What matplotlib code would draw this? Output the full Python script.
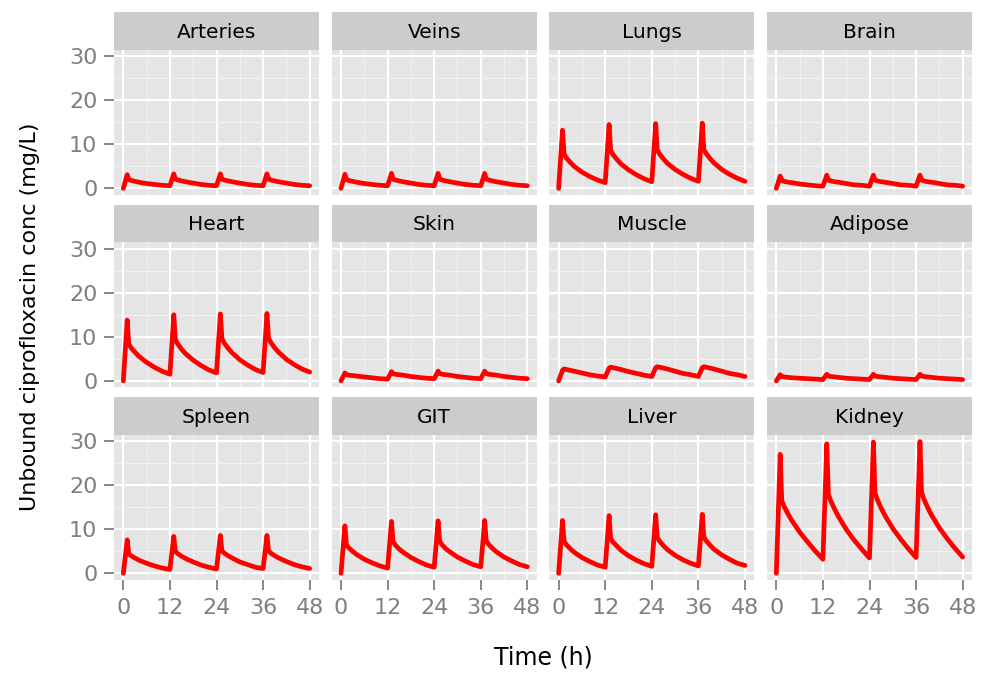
import numpy as np
import matplotlib
matplotlib.use("Agg")
import matplotlib.pyplot as plt

matplotlib.rcParams['font.family'] = ['DejaVu Sans']

# sampling times (h), four doses every 12 h
times = [0, 1, 1.4, 2, 3, 4, 6, 8, 10, 12,
         13, 13.4, 14, 15, 16, 18, 20, 22, 24,
         25, 25.4, 26, 27, 28, 30, 32, 34, 36,
         37, 37.4, 38, 39, 40, 42, 44, 46, 48]

arteries = [0, 3.1, 2.0, 1.8, 1.6, 1.4, 1.1, 0.9, 0.7, 0.6,
            3.3, 2.1, 1.9, 1.7, 1.5, 1.2, 0.9, 0.7, 0.6,
            3.3, 2.1, 1.9, 1.7, 1.5, 1.2, 0.9, 0.7, 0.6,
            3.3, 2.1, 1.9, 1.7, 1.5, 1.2, 0.9, 0.7, 0.6]
veins = [0, 3.2, 2.0, 1.8, 1.6, 1.4, 1.1, 0.9, 0.7, 0.6,
         3.4, 2.1, 1.9, 1.7, 1.5, 1.2, 0.9, 0.7, 0.6,
         3.4, 2.1, 1.9, 1.7, 1.5, 1.2, 0.9, 0.7, 0.6,
         3.4, 2.1, 1.9, 1.7, 1.5, 1.2, 0.9, 0.7, 0.6]
lungs = [0, 13.2, 7.8, 6.9, 5.9, 5.0, 3.7, 2.7, 1.9, 1.3,
         14.5, 8.6, 7.7, 6.6, 5.6, 4.2, 3.1, 2.2, 1.5,
         14.7, 8.8, 7.8, 6.7, 5.7, 4.3, 3.2, 2.3, 1.6,
         14.8, 8.8, 7.9, 6.8, 5.8, 4.3, 3.2, 2.3, 1.6]
brain = [0, 2.8, 1.8, 1.6, 1.4, 1.3, 1.0, 0.8, 0.6, 0.5,
         3.0, 1.9, 1.7, 1.5, 1.4, 1.1, 0.8, 0.7, 0.5,
         3.0, 1.9, 1.7, 1.5, 1.4, 1.1, 0.8, 0.7, 0.5,
         3.0, 1.9, 1.7, 1.5, 1.4, 1.1, 0.8, 0.7, 0.5]
heart = [0, 13.8, 8.4, 7.5, 6.5, 5.6, 4.2, 3.1, 2.2, 1.5,
         15.0, 9.4, 8.4, 7.2, 6.2, 4.7, 3.5, 2.5, 1.8,
         15.2, 9.6, 8.6, 7.4, 6.4, 4.8, 3.6, 2.6, 1.9,
         15.3, 9.7, 8.7, 7.5, 6.5, 4.9, 3.7, 2.7, 2.0]
skin = [0, 1.8, 1.4, 1.3, 1.2, 1.1, 0.9, 0.7, 0.5, 0.4,
        2.1, 1.6, 1.5, 1.4, 1.3, 1.0, 0.8, 0.6, 0.5,
        2.2, 1.7, 1.5, 1.4, 1.3, 1.0, 0.8, 0.6, 0.5,
        2.2, 1.7, 1.5, 1.4, 1.3, 1.0, 0.8, 0.6, 0.5]
muscle = [0, 2.4, 2.7, 2.6, 2.4, 2.2, 1.8, 1.4, 1.1, 0.9,
          2.9, 3.1, 3.0, 2.8, 2.6, 2.1, 1.7, 1.3, 1.0,
          3.0, 3.2, 3.1, 2.9, 2.7, 2.2, 1.7, 1.4, 1.0,
          3.0, 3.2, 3.1, 2.9, 2.7, 2.2, 1.7, 1.4, 1.0]
adipose = [0, 1.4, 1.0, 0.9, 0.8, 0.7, 0.6, 0.5, 0.4, 0.3,
           1.5, 1.1, 1.0, 0.9, 0.8, 0.6, 0.5, 0.4, 0.3,
           1.5, 1.1, 1.0, 0.9, 0.8, 0.6, 0.5, 0.4, 0.3,
           1.5, 1.1, 1.0, 0.9, 0.8, 0.6, 0.5, 0.4, 0.3]
spleen = [0, 7.6, 4.4, 4.0, 3.5, 3.0, 2.3, 1.7, 1.2, 0.9,
          8.4, 5.0, 4.5, 3.9, 3.4, 2.6, 1.9, 1.4, 1.0,
          8.6, 5.1, 4.6, 4.0, 3.5, 2.6, 2.0, 1.4, 1.1,
          8.6, 5.1, 4.6, 4.0, 3.5, 2.7, 2.0, 1.5, 1.1]
git = [0, 10.8, 6.5, 5.8, 5.0, 4.3, 3.2, 2.4, 1.7, 1.2,
       11.8, 7.2, 6.4, 5.5, 4.8, 3.6, 2.7, 1.9, 1.4,
       11.9, 7.3, 6.5, 5.6, 4.9, 3.7, 2.8, 2.0, 1.5,
       12.0, 7.4, 6.6, 5.7, 4.9, 3.7, 2.8, 2.0, 1.5]
liver = [0, 12.0, 7.3, 6.5, 5.6, 4.8, 3.6, 2.7, 1.9, 1.4,
         13.1, 8.0, 7.1, 6.2, 5.3, 4.0, 3.0, 2.2, 1.6,
         13.3, 8.2, 7.3, 6.3, 5.4, 4.1, 3.1, 2.3, 1.7,
         13.4, 8.3, 7.4, 6.4, 5.5, 4.2, 3.2, 2.3, 1.8]
kidney = [0, 27.0, 16.5, 15.2, 13.5, 12.0, 9.4, 7.2, 5.1, 3.2,
          29.4, 18.0, 16.5, 14.6, 12.9, 10.0, 7.6, 5.5, 3.5,
          29.8, 18.3, 16.8, 14.8, 13.1, 10.2, 7.8, 5.6, 3.6,
          29.9, 18.4, 16.9, 14.9, 13.2, 10.3, 7.9, 5.7, 3.7]

tissues = ["Arteries", "Veins", "Lungs", "Brain",
           "Heart", "Skin", "Muscle", "Adipose",
           "Spleen", "GIT", "Liver", "Kidney"]
series = [arteries, veins, lungs, brain,
          heart, skin, muscle, adipose,
          spleen, git, liver, kidney]

x_major = [0, 12, 24, 36, 48]
x_minor = [6, 18, 30, 42]
y_major = [0, 10, 20, 30]
y_minor = [5, 15, 25]

W, H = 989, 674
panel_bg = "#E5E5E5"
strip_bg = "#CCCCCC"
grey50 = "#7F7F7F"


def px_axes(fig, left, top, width, height):
    # axes placed with pixel coords measured from the top-left corner
    return fig.add_axes([left / W, 1 - (top + height) / H, width / W, height / H])


fig = plt.figure(figsize=(W / 100, H / 100), dpi=100)

col_left = [114, 331.7, 549.3, 767]
panel_w = 205
strip_h = 38
panel_h = 145
row_pitch = 192.5

for i, (name, conc) in enumerate(zip(tissues, series)):
    r, c = divmod(i, 4)
    top = 12 + r * row_pitch
    # strip
    sax = px_axes(fig, col_left[c], top, panel_w, strip_h)
    sax.set_facecolor(strip_bg)
    sax.set_xticks([])
    sax.set_yticks([])
    for s in sax.spines.values():
        s.set_visible(False)
    sax.text(0.5, 0.47, name, ha="center", va="center", fontsize=14.5,
             color="black", transform=sax.transAxes)

    ax = px_axes(fig, col_left[c], top + strip_h, panel_w, panel_h)
    ax.set_facecolor(panel_bg)
    for s in ax.spines.values():
        s.set_visible(False)
    ax.set_xlim(-2.4, 50.4)
    ax.set_ylim(-1.5, 31.4)
    ax.set_xticks(x_major)
    ax.set_yticks(y_major)
    ax.set_xticks(x_minor, minor=True)
    ax.set_yticks(y_minor, minor=True)
    ax.grid(which="major", color="white", linewidth=1.5, zorder=1)
    ax.grid(which="minor", color="#F2F2F2", linewidth=0.8, zorder=1)
    ax.set_axisbelow(True)
    ax.tick_params(which="minor", length=0)
    ax.tick_params(which="major", length=7, width=1.3, color=grey50,
                   labelcolor=grey50, labelsize=16)
    ax.tick_params(axis="x", pad=6)
    ax.tick_params(axis="y", pad=5)
    if c != 0:
        ax.tick_params(axis="y", length=0, labelleft=False)
    if r != 2:
        ax.tick_params(axis="x", length=0, labelbottom=False)

    ax.plot(times, conc, color="#FF0000", linewidth=3.4, zorder=3,
            solid_joinstyle="round", solid_capstyle="round")

fig.text(543 / W, 1 - 657 / H, "Time (h)", ha="center", va="center",
         fontsize=17)
fig.text(30 / W, 1 - 317 / H, "Unbound ciprofloxacin conc (mg/L)",
         ha="center", va="center", rotation=90, fontsize=16)

plt.savefig("out.png", dpi=100)
plt.close("all")
